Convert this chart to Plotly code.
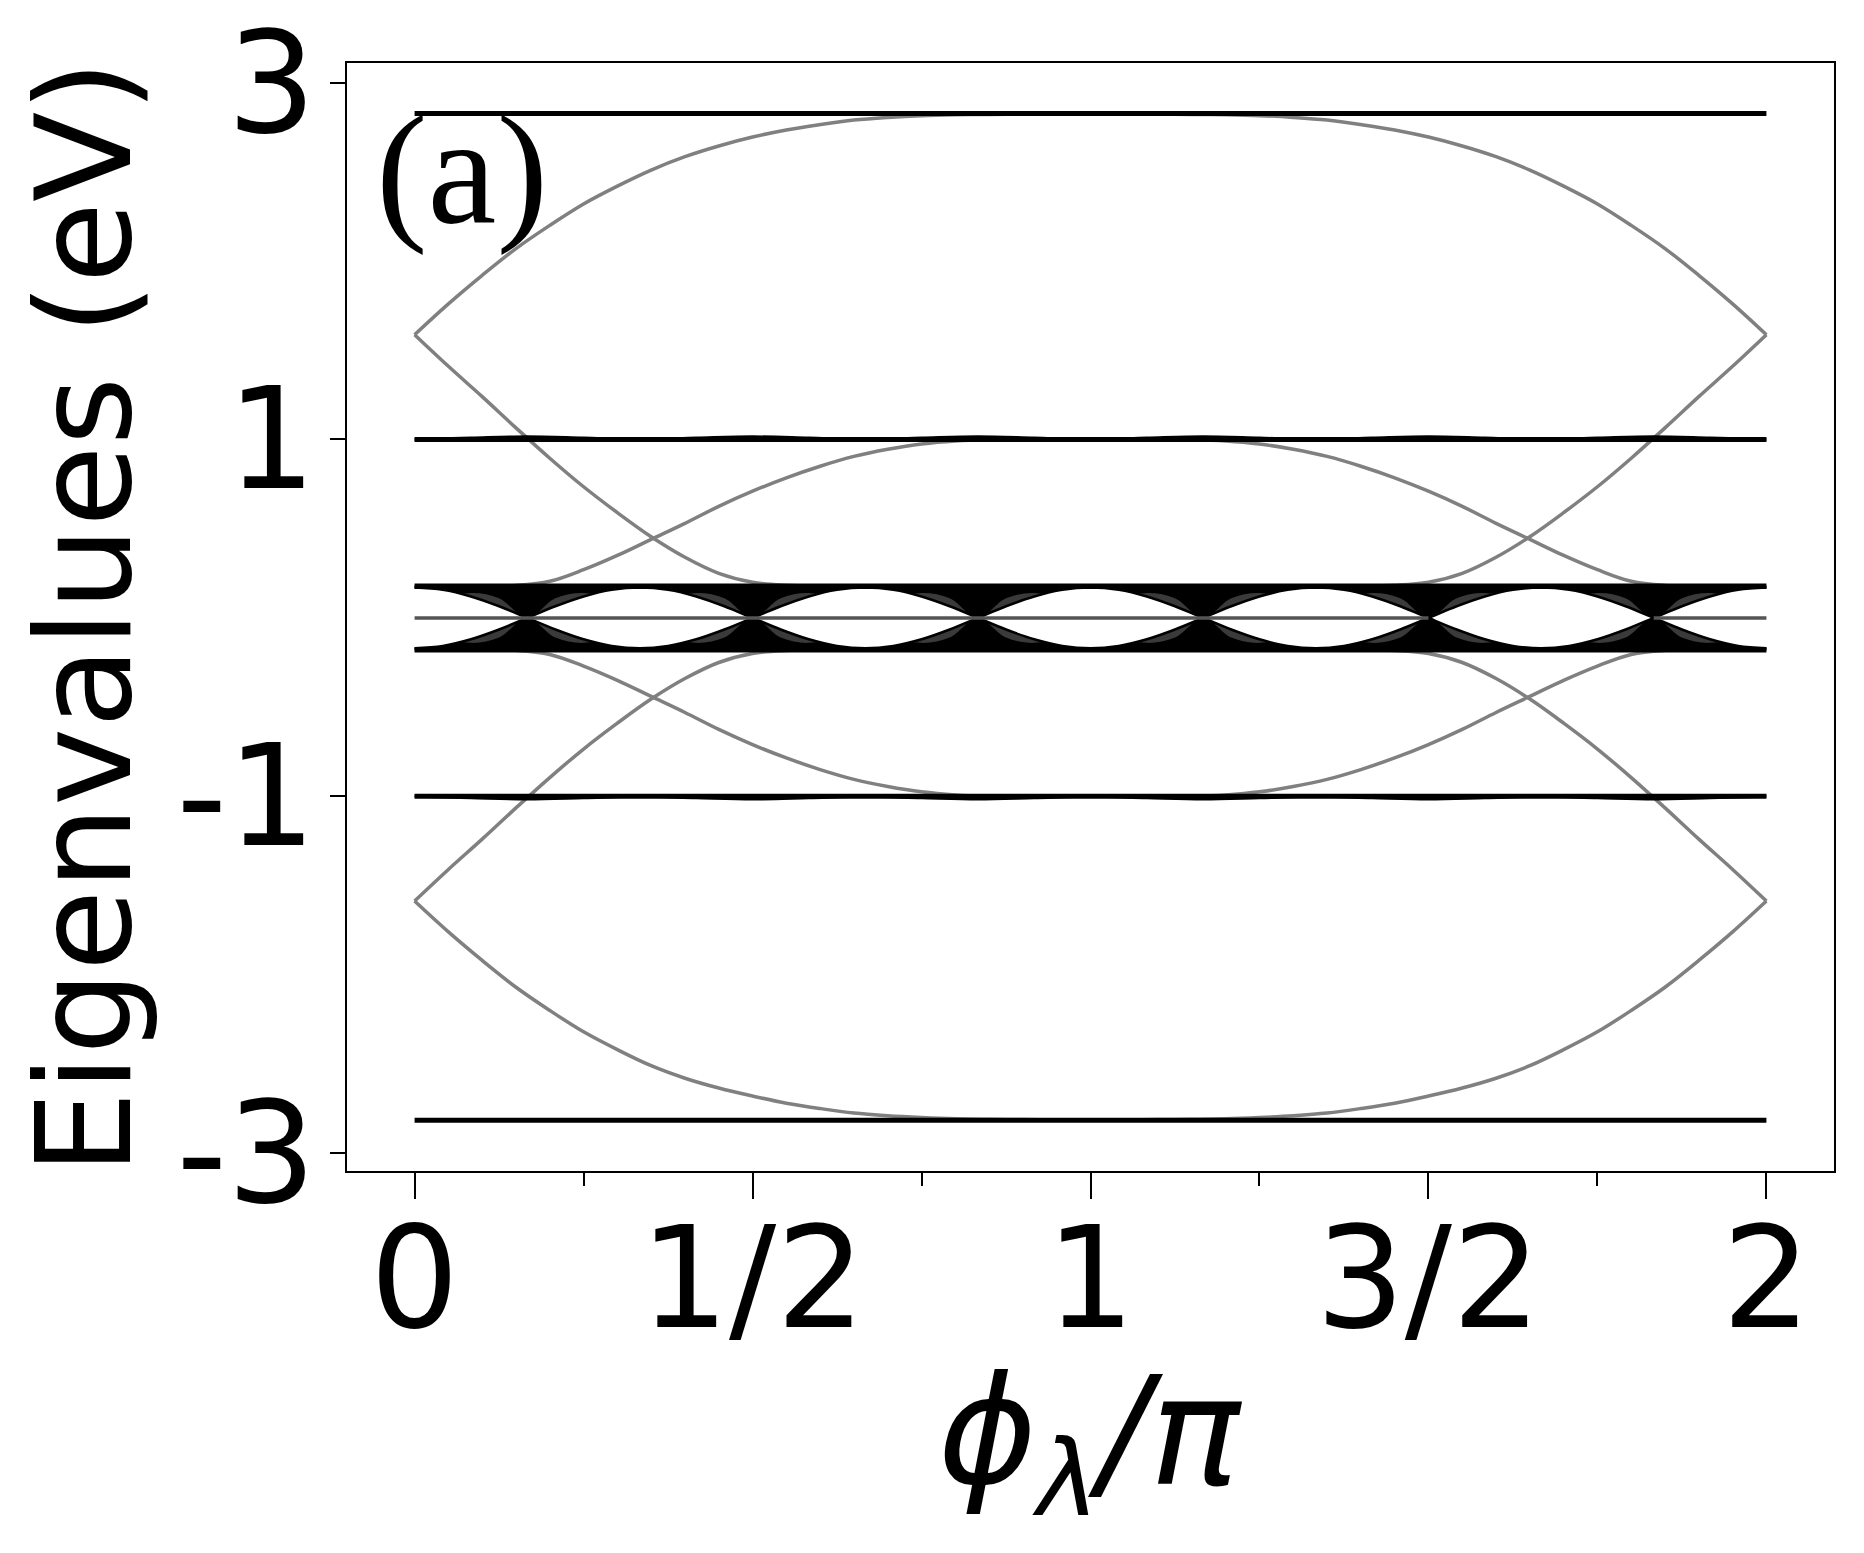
import plotly.graph_objects as go

# ---- data (phi_lambda / pi on x, eigenvalues in eV on y) ----

# flat black levels
x_flat = [0.0, 2.0]
top_level = [2.827, 2.827]
bottom_level = [-2.815, -2.815]
one_level = [1.0, 1.0]
minus_one_level = [-1.0, -1.0]
band_top = [0.178, 0.178]
band_bottom = [-0.178, -0.178]

# zero mode (missing inside the lens between 3/2 and 11/6)
x_zero = [0.0, 1.5, None, 1.8333, 2.0]
zero_level = [0.0, 0.0, None, 0.0, 0.0]

# slightly split partner of the +-1 levels (small bulges at the band crossings)
x_split = [0.0, 0.0833, 0.1667, 0.25, 0.3333, 0.4167, 0.5, 0.5833, 0.6667, 0.75, 0.8333, 0.9167, 1.0,
           1.0833, 1.1667, 1.25, 1.3333, 1.4167, 1.5, 1.5833, 1.6667, 1.75, 1.8333, 1.9167, 2.0]
one_split = [1.0, 1.008, 1.015, 1.008, 1.0, 1.008, 1.015, 1.008, 1.0, 1.008, 1.015, 1.008, 1.0,
             1.008, 1.015, 1.008, 1.0, 1.008, 1.015, 1.008, 1.0, 1.008, 1.015, 1.008, 1.0]
minus_one_split = [-1.0, -1.008, -1.015, -1.008, -1.0, -1.008, -1.015, -1.008, -1.0, -1.008, -1.015, -1.008, -1.0,
                   -1.008, -1.015, -1.008, -1.0, -1.008, -1.015, -1.008, -1.0, -1.008, -1.015, -1.008, -1.0]

# gray dispersive branches, read every 0.05
x_fine = [0.0, 0.05, 0.1, 0.15, 0.2, 0.25, 0.3, 0.35, 0.4, 0.45, 0.5, 0.55, 0.6, 0.65, 0.7, 0.75, 0.8,
          0.85, 0.9, 0.95, 1.0, 1.05, 1.1, 1.15, 1.2, 1.25, 1.3, 1.35, 1.4, 1.45, 1.5, 1.55, 1.6,
          1.65, 1.7, 1.75, 1.8, 1.85, 1.9, 1.95, 2.0]
outer_up = [1.587, 1.76, 1.92, 2.07, 2.2, 2.32, 2.42, 2.51, 2.585, 2.645, 2.695, 2.735, 2.765, 2.79, 2.805,
            2.815, 2.82, 2.822, 2.824, 2.825, 2.825, 2.825, 2.824, 2.822, 2.82, 2.815, 2.805, 2.79, 2.765,
            2.735, 2.695, 2.645, 2.585, 2.51, 2.42, 2.32, 2.2, 2.07, 1.92, 1.76, 1.587]
outer_dn = [-1.587, -1.76, -1.92, -2.07, -2.2, -2.32, -2.42, -2.51, -2.58, -2.635, -2.68, -2.72, -2.75, -2.775,
            -2.79, -2.8, -2.807, -2.81, -2.812, -2.813, -2.813, -2.813, -2.812, -2.81, -2.807, -2.8, -2.79,
            -2.775, -2.75, -2.72, -2.68, -2.635, -2.58, -2.51, -2.42, -2.32, -2.2, -2.07, -1.92, -1.76, -1.587]
fall_up = [1.587, 1.41, 1.24, 1.065, 0.895, 0.735, 0.59, 0.455, 0.34, 0.25, 0.2, 0.183, 0.178, 0.178, 0.178,
           0.178, 0.178, 0.178, 0.178, 0.178, 0.178, 0.178, 0.178, 0.178, 0.178, 0.178, 0.178, 0.178, 0.178,
           0.183, 0.2, 0.25, 0.34, 0.455, 0.59, 0.735, 0.895, 1.065, 1.24, 1.41, 1.587]
fall_dn = [-1.587, -1.41, -1.24, -1.065, -0.895, -0.735, -0.59, -0.455, -0.34, -0.25, -0.2, -0.183, -0.178,
           -0.178, -0.178, -0.178, -0.178, -0.178, -0.178, -0.178, -0.178, -0.178, -0.178, -0.178, -0.178,
           -0.178, -0.178, -0.178, -0.178, -0.183, -0.2, -0.25, -0.34, -0.455, -0.59, -0.735, -0.895, -1.065,
           -1.24, -1.41, -1.587]
rise_up = [0.178, 0.178, 0.178, 0.182, 0.205, 0.27, 0.35, 0.44, 0.53, 0.625, 0.71, 0.785, 0.85, 0.905, 0.945,
           0.975, 0.992, 0.999, 1.0, 1.0, 1.0, 1.0, 1.0, 0.999, 0.992, 0.975, 0.945, 0.905, 0.85, 0.785, 0.71,
           0.625, 0.53, 0.44, 0.35, 0.27, 0.205, 0.182, 0.178, 0.178, 0.178]
rise_dn = [-0.178, -0.178, -0.178, -0.182, -0.205, -0.27, -0.35, -0.44, -0.53, -0.625, -0.71, -0.785, -0.85,
           -0.905, -0.945, -0.975, -0.992, -0.999, -1.0, -1.0, -1.0, -1.0, -1.0, -0.999, -0.992, -0.975, -0.945,
           -0.905, -0.85, -0.785, -0.71, -0.625, -0.53, -0.44, -0.35, -0.27, -0.205, -0.182, -0.178, -0.178, -0.178]

# dense band around zero, read every 1/24
x_band = [0.0, 0.0417, 0.0833, 0.125, 0.1667, 0.2083, 0.25, 0.2917, 0.3333, 0.375, 0.4167, 0.4583,
          0.5, 0.5417, 0.5833, 0.625, 0.6667, 0.7083, 0.75, 0.7917, 0.8333, 0.875, 0.9167, 0.9583,
          1.0, 1.0417, 1.0833, 1.125, 1.1667, 1.2083, 1.25, 1.2917, 1.3333, 1.375, 1.4167, 1.4583,
          1.5, 1.5417, 1.5833, 1.625, 1.6667, 1.7083, 1.75, 1.7917, 1.8333, 1.875, 1.9167, 1.9583, 2.0]
# the two crossing branches that bound the white lenses
lens_a = [0.17, 0.157, 0.12, 0.065, 0.0, -0.065, -0.12, -0.157, -0.17, -0.157, -0.12, -0.065,
          0.0, 0.065, 0.12, 0.157, 0.17, 0.157, 0.12, 0.065, 0.0, -0.065, -0.12, -0.157,
          -0.17, -0.157, -0.12, -0.065, 0.0, 0.065, 0.12, 0.157, 0.17, 0.157, 0.12, 0.065,
          0.0, -0.065, -0.12, -0.157, -0.17, -0.157, -0.12, -0.065, 0.0, 0.065, 0.12, 0.157, 0.17]
lens_b = [-0.17, -0.157, -0.12, -0.065, 0.0, 0.065, 0.12, 0.157, 0.17, 0.157, 0.12, 0.065,
          0.0, -0.065, -0.12, -0.157, -0.17, -0.157, -0.12, -0.065, 0.0, 0.065, 0.12, 0.157,
          0.17, 0.157, 0.12, 0.065, 0.0, -0.065, -0.12, -0.157, -0.17, -0.157, -0.12, -0.065,
          0.0, 0.065, 0.12, 0.157, 0.17, 0.157, 0.12, 0.065, 0.0, -0.065, -0.12, -0.157, -0.17]
# inner edge of the dark fans above / below the lenses
fan_up = [0.17, 0.157, 0.12, 0.065, 0.0, 0.065, 0.12, 0.157, 0.17, 0.157, 0.12, 0.065,
          0.0, 0.065, 0.12, 0.157, 0.17, 0.157, 0.12, 0.065, 0.0, 0.065, 0.12, 0.157,
          0.17, 0.157, 0.12, 0.065, 0.0, 0.065, 0.12, 0.157, 0.17, 0.157, 0.12, 0.065,
          0.0, 0.065, 0.12, 0.157, 0.17, 0.157, 0.12, 0.065, 0.0, 0.065, 0.12, 0.157, 0.17]
fan_dn = [-0.17, -0.157, -0.12, -0.065, 0.0, -0.065, -0.12, -0.157, -0.17, -0.157, -0.12, -0.065,
          0.0, -0.065, -0.12, -0.157, -0.17, -0.157, -0.12, -0.065, 0.0, -0.065, -0.12, -0.157,
          -0.17, -0.157, -0.12, -0.065, 0.0, -0.065, -0.12, -0.157, -0.17, -0.157, -0.12, -0.065,
          0.0, -0.065, -0.12, -0.157, -0.17, -0.157, -0.12, -0.065, 0.0, -0.065, -0.12, -0.157, -0.17]
# half height of the lighter gray core of each fan
core_up = [0.0, 0.1, 0.14, 0.11, 0.0, 0.11, 0.14, 0.1, 0.0, 0.1, 0.14, 0.11,
           0.0, 0.11, 0.14, 0.1, 0.0, 0.1, 0.14, 0.11, 0.0, 0.11, 0.14, 0.1,
           0.0, 0.1, 0.14, 0.11, 0.0, 0.11, 0.14, 0.1, 0.0, 0.1, 0.14, 0.11,
           0.0, 0.11, 0.14, 0.1, 0.0, 0.1, 0.14, 0.11, 0.0, 0.11, 0.14, 0.1, 0.0]
core_dn = [0.0, -0.1, -0.14, -0.11, 0.0, -0.11, -0.14, -0.1, 0.0, -0.1, -0.14, -0.11,
           0.0, -0.11, -0.14, -0.1, 0.0, -0.1, -0.14, -0.11, 0.0, -0.11, -0.14, -0.1,
           0.0, -0.1, -0.14, -0.11, 0.0, -0.11, -0.14, -0.1, 0.0, -0.1, -0.14, -0.11,
           0.0, -0.11, -0.14, -0.1, 0.0, -0.1, -0.14, -0.11, 0.0, -0.11, -0.14, -0.1, 0.0]

x_ticks = [0, 0.5, 1, 1.5, 2]
x_tick_text = ["0", "1/2", "1", "3/2", "2"]
x_minor = [0.25, 0.75, 1.25, 1.75]
y_ticks = [3, 1, -1, -3]
y_tick_text = ["3", "1", "-1", "-3"]

GRAY = "#808080"
FONT = "DejaVu Sans"
NOLINE = "rgba(0,0,0,0)"


def line(x, y, color, width, shape="spline", **kw):
    return go.Scatter(x=x, y=y, mode="lines", line=dict(color=color, width=width, shape=shape),
                      hoverinfo="skip", showlegend=False, **kw)


fig = go.Figure()

# gray dispersive branches (underneath everything else)
for ys in [outer_up, outer_dn, fall_up, fall_dn, rise_up, rise_dn]:
    fig.add_trace(line(x_fine, ys, GRAY, 3.5))

# dense band: black fans, lighter cores near the crossings, white lenses on top
fig.add_trace(line(x_flat, band_top, NOLINE, 0, "linear"))
fig.add_trace(line(x_band, fan_up, NOLINE, 0, fill="tonexty", fillcolor="black"))
fig.add_trace(line(x_flat, band_bottom, NOLINE, 0, "linear"))
fig.add_trace(line(x_band, fan_dn, NOLINE, 0, fill="tonexty", fillcolor="black"))
fig.add_trace(line(x_band, core_up, NOLINE, 0))
fig.add_trace(line(x_band, core_dn, NOLINE, 0, fill="tonexty", fillcolor="#3a3a3a"))
fig.add_trace(line(x_band, lens_a, NOLINE, 0))
fig.add_trace(line(x_band, lens_b, NOLINE, 0, fill="tonexty", fillcolor="white"))
fig.add_trace(line(x_band, lens_a, "black", 2.5))
fig.add_trace(line(x_band, lens_b, "black", 2.5))
fig.add_trace(line(x_zero, zero_level, "#555555", 3.5, "linear"))
fig.add_trace(line(x_flat, band_top, "black", 5.5, "linear"))
fig.add_trace(line(x_flat, band_bottom, "black", 5.5, "linear"))

# flat black levels
for ys in [top_level, bottom_level, one_level, minus_one_level]:
    fig.add_trace(line(x_flat, ys, "black", 5, "linear"))
fig.add_trace(line(x_split, one_split, "black", 3))
fig.add_trace(line(x_split, minus_one_split, "black", 3))

axis_common = dict(
    showgrid=False, zeroline=False, showline=True, mirror=True, linecolor="black", linewidth=2,
    ticks="outside", tickcolor="black", tickwidth=2, automargin=False, ticklabeloverflow="allow",
    tickfont=dict(family=FONT, size=140, color="black"),
)

fig.update_xaxes(range=[-0.1, 2.1], tickvals=x_ticks, ticktext=x_tick_text, ticklen=26,
                 ticklabelstandoff=-40,
                 minor=dict(tickvals=x_minor, ticks="outside", ticklen=13, tickwidth=2, tickcolor="black"),
                 **axis_common)
fig.update_yaxes(range=[-3.1, 3.11], tickvals=y_ticks, ticktext=y_tick_text, ticklen=15,
                 ticklabelstandoff=-14, **axis_common)

# the page body adds an 8 px offset, so the margins are pulled in by that much
fig.update_layout(
    width=1864, height=1553,
    margin=dict(l=339, r=38, t=55, b=390),
    plot_bgcolor="white", paper_bgcolor="white",
    annotations=[
        dict(text="Eigenvalues (eV)", xref="paper", yref="paper", x=-0.177, y=0.5,
             xanchor="center", yanchor="middle", textangle=-90, showarrow=False,
             font=dict(family=FONT, size=132, color="black")),
        dict(text="<i>ϕ</i><sub><i>λ</i></sub><i>/π</i>", xref="paper", yref="paper", x=0.5, y=-0.245,
             xanchor="center", yanchor="middle", showarrow=False,
             font=dict(family=FONT, size=150, color="black")),
        dict(text="(a)", xref="x", yref="y", x=-0.06, y=2.51, xanchor="left", yanchor="middle",
             showarrow=False, font=dict(family="Liberation Serif", size=155, color="black")),
    ],
)

fig.write_html("out.html")
